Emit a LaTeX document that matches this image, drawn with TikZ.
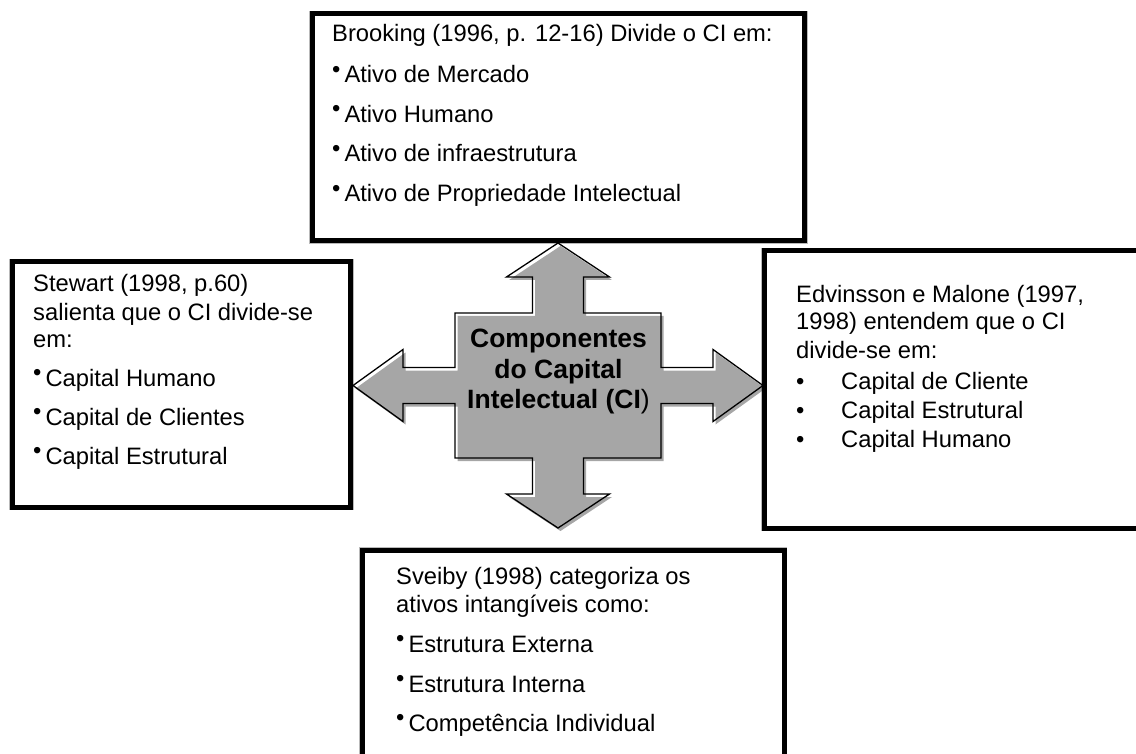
\documentclass[tikz,border=0pt]{standalone}
\usepackage{fontspec}
\setmainfont{Liberation Sans}
\definecolor{gtop}{HTML}{F6F6F6}
\definecolor{gbot}{HTML}{A6A6A6}
\newcommand{\bul}{\raisebox{0.25em}{•}\kern4pt}
\newcommand{\ebul}{\makebox[45pt][l]{•}}
\begin{document}
\begin{tikzpicture}[x=1pt,y=-1pt,
  box/.style={draw=black, line width=5pt, fill=white, inner sep=0pt,
    preaction={draw=gray!55, line width=6.5pt}},
  txt/.style={anchor=base west, inner sep=0pt, font=\fontsize{23.75}{27.5}\selectfont},
  ctr/.style={anchor=base, inner sep=0pt, font=\fontsize{26.5}{30.5}\selectfont\bfseries}]
\useasboundingbox (0,0) rectangle (1136,754);
\fill[white] (0,0) rectangle (1136,754);

% boxes
\node[box, minimum width=492pt, minimum height=227pt] (brook) at (558.5,127.5) {};
\node[box, minimum width=338.5pt, minimum height=245pt] (stew) at (181.25,384.5) {};
\node[box, minimum width=376pt, minimum height=277pt] (edv) at (952,389.5) {};
\node[box, minimum width=421.5pt, minimum height=206.5pt] (sve) at (573.25,653.75) {};

% central four-way arrow
\path[save path=\crossp] (558,243) -- (609.5,277) -- (583.5,277) -- (583.5,313) -- (661,313)
  -- (661,367.5) -- (713,367.5) -- (713,349.5) -- (763,385.5) -- (713,421.5) -- (713,403.5)
  -- (661,403.5) -- (661,458) -- (583.5,458) -- (583.5,494) -- (609.5,494) -- (558,528)
  -- (506.5,494) -- (532.5,494) -- (532.5,458) -- (455,458) -- (455,403.5) -- (403,403.5)
  -- (403,421.5) -- (353,385.5) -- (403,349.5) -- (403,367.5) -- (455,367.5) -- (455,313)
  -- (532.5,313) -- (532.5,277) -- (506.5,277) -- cycle;
\begin{scope}[transform canvas={shift={(2.5pt,-3pt)}}]
  \fill[black, opacity=0.35, use path=\crossp];
\end{scope}
\shade[top color=gtop, bottom color=gbot, use path=\crossp];
\draw[black, line width=1.3pt, line join=miter, use path=\crossp];

\node[ctr] (c1) at (558.5,347) {Componentes};
\node[ctr] (c2) at (558.5,378) {do Capital};
\node[ctr] (c3) at (558.5,408.5) {Intelectual (CI{\mdseries)}};

% Brooking
\node[txt] (b0) at (332,42) {Brooking (1996, p. 12-16) Divide o CI em:};
\node[txt] (b1) at (332,83) {\bul Ativo de Mercado};
\node[txt] (b2) at (332,122.5) {\bul Ativo Humano};
\node[txt] (b3) at (332,162) {\bul Ativo de infraestrutura};
\node[txt] (b4) at (332,202) {\bul Ativo de Propriedade Intelectual};

% Stewart
\node[txt] (s0) at (33,292) {Stewart (1998, p.60)};
\node[txt] (s1) at (33,320) {salienta que o CI divide-se};
\node[txt] (s2) at (33,348) {em:};
\node[txt] (s3) at (33,386) {\bul Capital Humano};
\node[txt] (s4) at (33,425) {\bul Capital de Clientes};
\node[txt] (s5) at (33,464) {\bul Capital Estrutural};

% Edvinsson
\node[txt] (e0) at (796,302) {Edvinsson e Malone (1997,};
\node[txt] (e1) at (796,330) {1998) entendem que o CI};
\node[txt] (e2) at (796,358) {divide-se em:};
\node[txt] (e3) at (796,389) {\ebul Capital de Cliente};
\node[txt] (e4) at (796,418) {\ebul Capital Estrutural};
\node[txt] (e5) at (796,447) {\ebul Capital Humano};

% Sveiby
\node[txt] (v0) at (396,584) {Sveiby (1998) categoriza os};
\node[txt] (v1) at (396,612) {ativos intangíveis como:};
\node[txt] (v2) at (396,652) {\bul Estrutura Externa};
\node[txt] (v3) at (396,692) {\bul Estrutura Interna};
\node[txt] (v4) at (396,731) {\bul Competência Individual};
\end{tikzpicture}
\end{document}
